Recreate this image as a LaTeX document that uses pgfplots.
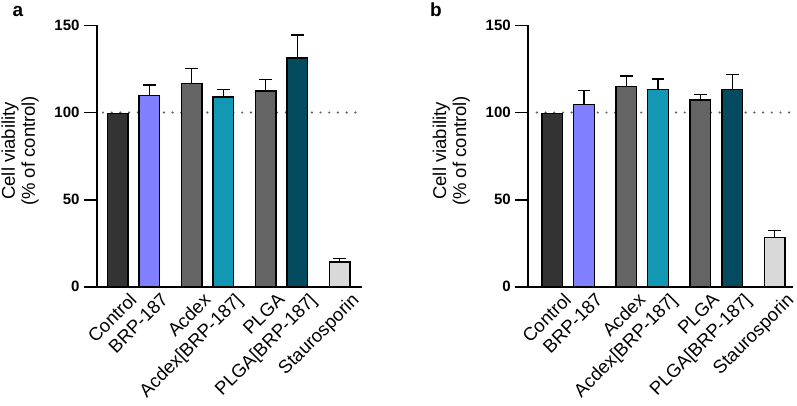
\documentclass[border=0pt]{standalone}
\usepackage{fontspec}
\setmainfont{Liberation Sans}
\usepackage{pgfplots}
\pgfplotsset{compat=1.18}
\definecolor{cctrl}{HTML}{333333}
\definecolor{cbrp}{HTML}{8080FF}
\definecolor{cacdex}{HTML}{646464}
\definecolor{cacdexbrp}{HTML}{1398B4}
\definecolor{cplga}{HTML}{646464}
\definecolor{cplgabrp}{HTML}{054B60}
\definecolor{cstau}{HTML}{D9D9D9}
\pgfplotsset{
  mybar/.style={ybar, bar width=0.65, bar shift=0pt, fill=#1, draw=black, line width=1.4pt,
    error bars/.cd, y dir=plus, y explicit,
    error bar style={line width=1.4pt, black},
    error mark options={black, line width=1.4pt, mark size=6.3pt, rotate=90}},
  panel/.style={
    scale only axis, width=265pt, height=261.3pt,
    ymin=0, ymax=150, ytick={0,50,100,150},
    axis x line*=bottom, axis y line*=left,
    axis line style={line width=1.8pt, -},
    every tick/.style={line width=1.8pt, black},
    ytick align=outside, major tick length=13pt,
    xtick={0,1,2.3333,3.3333,4.6667,5.6667,7},
    xticklabels={Control,BRP-187,Acdex,Acdex[BRP-187],PLGA,PLGA[BRP-187],Staurosporin},
    x tick style={draw=none},
    /pgf/number format/assume math mode=true,
    yticklabel style={font=\bfseries\fontsize{15}{15}\selectfont, xshift=-1pt},
    x tick label style={rotate=45, anchor=north east, font=\fontsize{18.5}{19}\selectfont, inner sep=0pt, xshift=4pt, yshift=-11pt},
    ylabel={Cell viability\\(\% of control)},
    ylabel style={at={(axis description cs:-0.29,0.52)}, anchor=center, rotate=0, align=center, font=\fontsize{18.5}{20}\selectfont},
    clip=false,
  },
}
\begin{document}
\begin{tikzpicture}
\useasboundingbox (0pt,0pt) rectangle (797pt,-405pt);
\node[font=\bfseries\fontsize{19}{19}\selectfont] at (18pt,-11pt) {a};
\node[font=\bfseries\fontsize{19}{19}\selectfont] at (436pt,-10pt) {b};
\begin{axis}[panel, at={(97pt,-286.7pt)}, anchor=south west, xmin=-0.65, xmax=7.7]
\addplot[gray!75!black, line width=2.4pt, line cap=round, dash pattern=on 0pt off 8.7pt] coordinates {(-0.46,100) (7.58,100)};
\addplot[mybar=cctrl] coordinates {(0,99.3) +- (0,0)};
\addplot[mybar=cbrp] coordinates {(1,109.6) +- (0,6.1)};
\addplot[mybar=cacdex] coordinates {(2.3333,116.5) +- (0,8.8)};
\addplot[mybar=cacdexbrp] coordinates {(3.3333,108.9) +- (0,4.4)};
\addplot[mybar=cplga] coordinates {(4.6667,112.3) +- (0,6.7)};
\addplot[mybar=cplgabrp] coordinates {(5.6667,131.2) +- (0,13.4)};
\addplot[mybar=cstau] coordinates {(7,14.2) +- (0,2.1)};
\end{axis}
\begin{axis}[panel, at={(528.3pt,-286.7pt)}, anchor=south west, xmin=-0.75, xmax=7.59]
\addplot[gray!75!black, line width=2.4pt, line cap=round, dash pattern=on 0pt off 8.7pt] coordinates {(-0.48,100) (7.58,100)};
\addplot[mybar=cctrl] coordinates {(0,99.3) +- (0,0)};
\addplot[mybar=cbrp] coordinates {(1,104.6) +- (0,7.9)};
\addplot[mybar=cacdex] coordinates {(2.3333,115.0) +- (0,5.9)};
\addplot[mybar=cacdexbrp] coordinates {(3.3333,113.3) +- (0,5.9)};
\addplot[mybar=cplga] coordinates {(4.6667,107.1) +- (0,3.1)};
\addplot[mybar=cplgabrp] coordinates {(5.6667,113.3) +- (0,8.4)};
\addplot[mybar=cstau] coordinates {(7,28.1) +- (0,4.2)};
\end{axis}
\end{tikzpicture}
\end{document}
